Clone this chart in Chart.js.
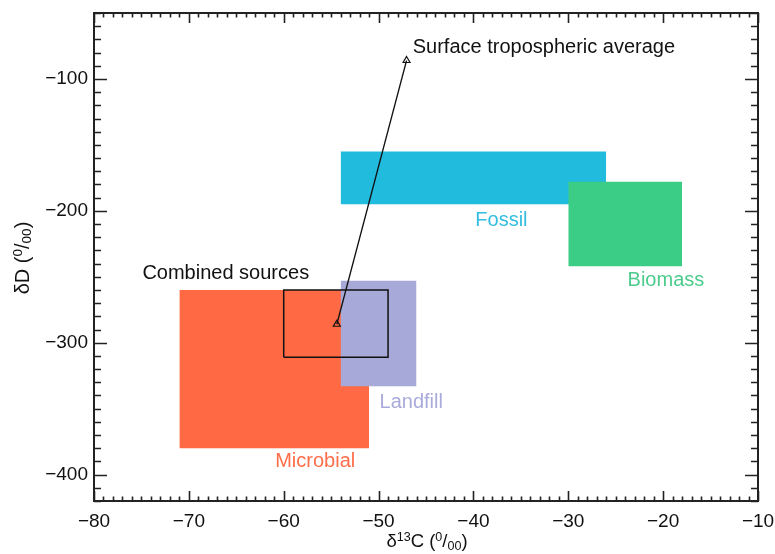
<!DOCTYPE html>
<html>
<head>
<meta charset="utf-8">
<script src="https://cdn.jsdelivr.net/npm/chart.js@4.4.1/dist/chart.umd.min.js"></script>
<style>
body { margin: 0; background: #fff; }
#wrap { width: 775px; height: 554px; }
</style>
</head>
<body>
<div id="wrap"><canvas id="isotopes"></canvas></div>
<script>
// axis ticks
const xTicks = [-80, -70, -60, -50, -40, -30, -20, -10];
const yTicks = [-400, -300, -200, -100];

// source boxes (d13C range, dD range)
const sourceNames = ['Microbial', 'Landfill', 'Fossil', 'Biomass'];
const d13cLow = [-71, -54, -54, -30];
const d13cHigh = [-51, -46, -26, -18];
const dDLow = [-380, -333, -195, -242];
const dDHigh = [-260, -253, -155, -178];
const sourceColors = ['#ff6a45', '#a7a9d8', '#21bbdd', '#3bcc85'];
const labelColors = ['#ff6e4a', '#a9abdb', '#33bde0', '#4ccc8c'];

// combined sources box
const combinedD13C = [-60, -49];
const combinedDD = [-311, -260];

// combined sources -> surface tropospheric average
const avgD13C = [-54.4, -47.05];
const avgDD = [-286, -86];

// text labels: text, anchor (data coords)
const labelText = ['Microbial', 'Landfill', 'Fossil', 'Biomass', 'Combined sources', 'Surface tropospheric average'];
const labelD13C = [-60.9, -49.9, -39.8, -23.75, -74.9, -46.4];
const labelDD = [-390, -345, -207, -253, -247.5, -76.5];

var FONT = '"Liberation Sans", Arial, Helvetica, sans-serif';

var datasets = [];
sourceNames.forEach(function (name, i) {
    var ord = 10 - i;
    datasets.push({
        label: name,
        data: [{x: d13cLow[i], y: dDHigh[i]}, {x: d13cHigh[i], y: dDHigh[i]}],
        fill: '+1',
        backgroundColor: sourceColors[i],
        borderColor: 'rgba(0,0,0,0)',
        borderWidth: 1,
        pointRadius: 0,
        order: ord
    });
    datasets.push({
        label: name + ' low',
        data: [{x: d13cLow[i], y: dDLow[i]}, {x: d13cHigh[i], y: dDLow[i]}],
        fill: false,
        borderColor: 'rgba(0,0,0,0)',
        borderWidth: 1,
        pointRadius: 0,
        order: ord
    });
});

datasets.push({
    label: 'Combined sources',
    data: [
        {x: combinedD13C[0], y: combinedDD[0]},
        {x: combinedD13C[0], y: combinedDD[1]},
        {x: combinedD13C[1], y: combinedDD[1]},
        {x: combinedD13C[1], y: combinedDD[0]},
        {x: combinedD13C[0], y: combinedDD[0]}
    ],
    fill: false,
    borderColor: '#111',
    borderWidth: 1.5,
    pointRadius: 0,
    tension: 0,
    order: 2
});

datasets.push({
    label: 'Surface tropospheric average',
    data: avgD13C.map(function (v, i) { return {x: v, y: avgDD[i]}; }),
    fill: false,
    borderColor: '#111',
    borderWidth: 1.3,
    pointStyle: 'triangle',
    pointRadius: 4,
    pointBorderWidth: 1.2,
    pointBorderColor: '#111',
    pointBackgroundColor: 'rgba(0,0,0,0)',
    order: 1
});

function richText(ctx, parts, size) {
    var w = 0;
    parts.forEach(function (p) {
        var fs = p[1] ? size * 0.68 : size;
        ctx.font = fs + 'px ' + FONT;
        p.w = ctx.measureText(p[0]).width;
        w += p.w;
    });
    return w;
}

function drawRich(ctx, parts, cx, cy, size) {
    var w = richText(ctx, parts, size);
    var x = cx - w / 2;
    ctx.textAlign = 'left';
    ctx.textBaseline = 'alphabetic';
    var base = cy + size * 0.35;
    parts.forEach(function (p) {
        var fs = p[1] ? size * 0.68 : size;
        var dy = 0;
        if (p[1] === 'sup') dy = -size * 0.36;
        if (p[1] === 'sub') dy = size * 0.12;
        ctx.font = fs + 'px ' + FONT;
        ctx.fillText(p[0], x, base + dy);
        x += p.w;
    });
}

var boxPlugin = {
    id: 'boxPlugin',
    afterDatasetsDraw: function (chart) {
        var ctx = chart.ctx;
        var a = chart.chartArea;
        var xs = chart.scales.x, ys = chart.scales.y;

        // labels
        ctx.save();
        ctx.font = '20px ' + FONT;
        ctx.textAlign = 'left';
        ctx.textBaseline = 'middle';
        labelText.forEach(function (t, i) {
            ctx.fillStyle = i < 4 ? labelColors[i] : '#111';
            ctx.fillText(t, xs.getPixelForValue(labelD13C[i]), ys.getPixelForValue(labelDD[i]));
        });
        ctx.restore();

        // frame + inward ticks on all sides
        ctx.save();
        ctx.strokeStyle = '#222';
        ctx.lineWidth = 1.6;
        ctx.beginPath();
        for (var v = xs.min; v <= xs.max + 0.001; v += 1) {
            var px = Math.round(xs.getPixelForValue(v)) + 0.5;
            var len = (Math.round(v) % 10 === 0) ? 10 : 4.5;
            ctx.moveTo(px, a.bottom); ctx.lineTo(px, a.bottom - len);
            ctx.moveTo(px, a.top); ctx.lineTo(px, a.top + len);
        }
        for (var u = -420; u <= ys.max + 0.001; u += 10) {
            var py = Math.round(ys.getPixelForValue(u)) + 0.5;
            var l2 = (u % 100 === 0) ? 13 : 7;
            ctx.moveTo(a.left, py); ctx.lineTo(a.left + l2, py);
            ctx.moveTo(a.right, py); ctx.lineTo(a.right - l2, py);
        }
        ctx.stroke();
        ctx.lineWidth = 2;
        ctx.strokeRect(a.left, a.top, a.right - a.left, a.bottom - a.top);
        ctx.restore();

        // axis titles
        ctx.save();
        ctx.fillStyle = '#111';
        drawRich(ctx, [['\u03b4'], ['13', 'sup'], ['C ('], ['0', 'sup'], ['/'], ['00', 'sub'], [')']], 427, 541, 18.5);
        ctx.translate(22, 258);
        ctx.rotate(-Math.PI / 2);
        drawRich(ctx, [['\u03b4D ('], ['0', 'sup'], ['/'], ['00', 'sub'], [')']], 0, 0, 20);
        ctx.restore();
    }
};

var chart = new Chart(document.getElementById('isotopes'), {
    type: 'line',
    data: { datasets: datasets },
    options: {
        responsive: true,
        maintainAspectRatio: false,
        animation: false,
        layout: { padding: { top: 13, right: 17, left: 0, bottom: 0 } },
        plugins: {
            legend: { display: false },
            tooltip: { enabled: false },
            filler: { drawTime: 'beforeDatasetDraw' }
        },
        scales: {
            x: {
                type: 'linear',
                min: -80,
                max: -10,
                grid: { display: false, drawTicks: false },
                border: { display: false },
                afterBuildTicks: function (scale) { scale.ticks = xTicks.map(function (v) { return {value: v}; }); },
                afterFit: function (scale) {
                    scale.height = 53;
                    scale.paddingLeft = 0;
                    scale.paddingRight = 0;
                },
                ticks: {
                    padding: 9,
                    maxRotation: 0,
                    color: '#111',
                    font: { family: FONT, size: 19 },
                    callback: function (v) { return String(v).replace('-', '\u2212'); }
                }
            },
            y: {
                type: 'linear',
                min: -420,
                max: -50,
                grid: { display: false, drawTicks: false },
                border: { display: false },
                afterBuildTicks: function (scale) { scale.ticks = yTicks.map(function (v) { return {value: v}; }); },
                afterFit: function (scale) {
                    scale.width = 94;
                    scale.paddingTop = 0;
                    scale.paddingBottom = 0;
                },
                ticks: {
                    padding: 6,
                    color: '#111',
                    font: { family: FONT, size: 19 },
                    callback: function (v) { return String(v).replace('-', '\u2212'); }
                }
            }
        }
    },
    plugins: [boxPlugin]
});
</script>
</body>
</html>
